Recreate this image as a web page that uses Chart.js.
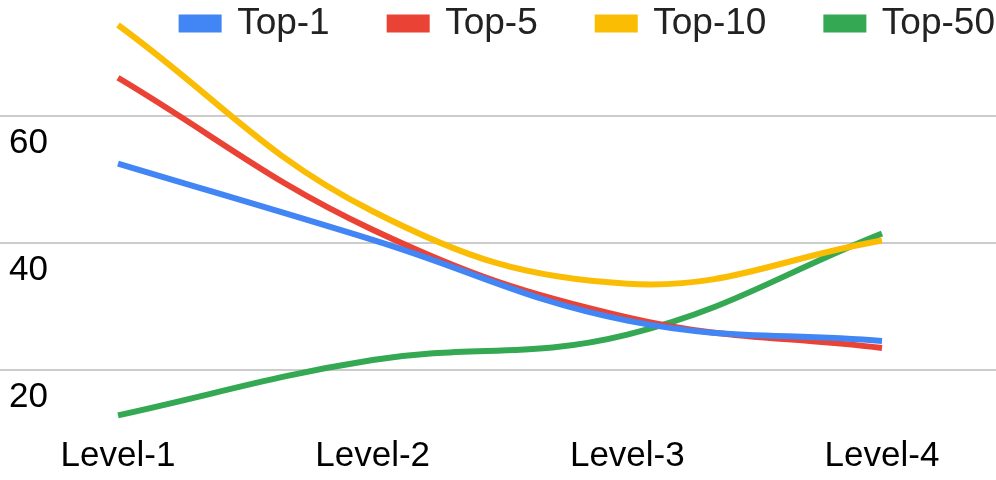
<!DOCTYPE html>
<html>
<head>
<meta charset="utf-8">
<script src="https://cdn.jsdelivr.net/npm/chart.js@4/dist/chart.umd.min.js"></script>
<style>
  html, body { margin: 0; padding: 0; background: #fff; }
  #wrap { width: 996px; height: 480px; position: relative; }
</style>
</head>
<body>
<div id="wrap"><canvas id="c" width="996" height="480"></canvas></div>
<script>
const categories = ["Level-1", "Level-2", "Level-3", "Level-4"];
const seriesNames = ["Top-1", "Top-5", "Top-10", "Top-50"];
const top1 = [52.5, 40.5, 27.8, 24.6];
const top5 = [66.0, 42.1, 28.3, 23.5];
const top10 = [74.3, 45.0, 33.6, 40.4];
const top50 = [12.9, 21.6, 25.6, 41.5];
const yTickValues = [20, 40, 60];
const colors = ["#4285F4", "#EA4335", "#FBBC04", "#34A853"];

const seriesValues = [top1, top5, top10, top50];
const FONT = "'Liberation Sans', Arial, sans-serif";

const datasets = seriesValues.map((vals, i) => ({
  label: seriesNames[i],
  data: vals.map((v, j) => ({ x: j + 1, y: v })),
  borderColor: colors[i],
  backgroundColor: colors[i],
  borderWidth: 6,
  pointRadius: 0,
  pointHoverRadius: 0,
  tension: 0.4,
  fill: false,
  clip: false
}));

new Chart(document.getElementById('c'), {
  type: 'line',
  data: { datasets },
  options: {
    responsive: false,
    animation: false,
    devicePixelRatio: 1,
    layout: { padding: { top: -55, right: -59, left: -18, bottom: -7 } },
    plugins: {
      tooltip: { enabled: false },
      legend: {
        position: 'top',
        align: 'end',
        labels: {
          boxWidth: 37,
          boxHeight: 12,
          padding: 60,
          color: '#222',
          font: { family: FONT, size: 37 }
        }
      }
    },
    scales: {
      x: {
        type: 'linear',
        min: 0.5367,
        max: 4.4476,
        grid: { display: false, drawTicks: false },
        border: { display: false },
        afterBuildTicks: (s) => { s.ticks = categories.map((c, i) => ({ value: i + 1 })); },
        ticks: {
          padding: 10,
          color: '#000',
          font: { family: FONT, size: 35 },
          maxRotation: 0,
          autoSkip: false,
          callback: (v) => categories[v - 1]
        }
      },
      y: {
        type: 'linear',
        min: 11.38,
        max: 70.05,
        grid: { color: '#cccccc', lineWidth: 2, drawTicks: false },
        border: { display: false },
        afterBuildTicks: (s) => { s.ticks = yTickValues.map(v => ({ value: v })); },
        ticks: {
          mirror: true,
          padding: 9,
          labelOffset: 27,
          color: '#000',
          font: { family: FONT, size: 35 }
        }
      }
    }
  }
});
</script>
</body>
</html>
